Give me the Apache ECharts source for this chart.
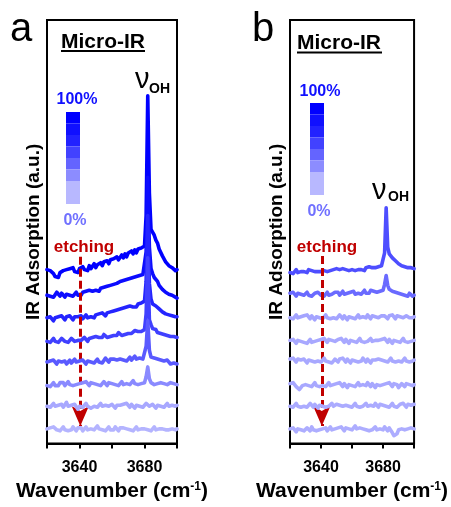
<!DOCTYPE html>
<html><head><meta charset="utf-8">
<script src="https://cdn.jsdelivr.net/npm/echarts@6/dist/echarts.min.js"></script>
<style>html,body{margin:0;padding:0;background:#fff}#c{width:451px;height:507px}</style>
</head><body><div id="c"></div>
<script>
// Wavenumber sampling (cm-1), one point per cm-1
const wnMin = 3620, wnMax = 3700;
const tickLabels = [3640, 3680];
const wn = [];
for (let x = wnMin; x <= wnMax; x++) wn.push(x);

// Panel a: vertical offsets of the stacked spectra (top -> bottom)
const offsetsA = [176, 151, 127, 104, 83, 60, 38, 14];
const colorsA = ['#0000FF', '#0C0CFF', '#2424FF', '#4040FF', '#5A5AFF', '#8A8AFF', '#A8A8FF', '#B4B4FF'];
const a1 = [1,3,0,2,-3,-6,-5,-7,-2,-4, 0,-2,1,-1,2,0,3,-1,1,-2, 2,0,4,1,3,0,5,2,4,7, 3,6,4,8,5,9,7,10,7,11, 9,12,10,14,11,13,16,13,17,14, 18,16,20,17,21,18,22,20,23,21, 25,56,178,79,42,43,36,31,28,22, 20,15,14,9,9,5,6,3,3,0, 1];
const a2 = [0,2,-1,1,-2,0,3,1,-1,2, 0,-2,1,3,0,2,-1,1,3,0, 2,0,3,1,4,2,5,3,4,2, 5,7,4,7,5,8,6,9,7,10, 8,11,9,12,10,14,12,15,13,16, 14,17,15,18,16,19,17,20,18,21, 21,44,120,49,27,22,18,16,14,10, 9,6,5,3,4,1,2,0,-1,-2, -3];
const a3 = [1,-1,2,0,-2,1,-1,2,0,3, 1,-1,2,0,3,1,-1,2,0,2, 1,3,0,2,4,1,3,2,4,1, 4,2,5,3,6,4,3,6,5,7, 5,8,6,9,7,10,8,11,9,12, 10,13,11,12,14,12,15,13,16,15, 18,38,105,36,20,15,16,13,12,10, 9,7,8,5,6,4,5,3,4,2, 2];
const a4 = [0,2,-1,1,3,0,2,-1,1,3, 1,0,2,-1,1,3,2,0,2,1, 3,1,2,4,2,0,3,1,4,2, 5,3,4,6,4,7,5,4,6,5, 7,6,8,6,9,7,6,8,7,9, 8,10,8,9,11,9,10,12,10,11, 12,28,85,22,17,13,11,12,9,10, 8,9,7,8,6,7,5,6,5,4, 4];
const a5 = [0,-2,1,-1,2,0,-2,1,3,0, -1,1,-2,0,2,-1,1,3,0,-1, 1,-1,2,0,-2,1,3,0,2,-1, 1,3,0,2,-1,1,4,2,0,3, 1,3,4,2,0,3,5,2,4,1, 3,5,2,4,6,3,5,4,6,3, 5,16,42,12,5,3,4,2,3,1, 2,0,1,-1,2,0,-2,0,-1,-3, -2];
const a6 = [-1,1,-2,0,2,-1,1,-1,2,0, 2,-1,1,3,0,2,-1,1,0,2, 1,-1,2,0,3,1,-1,2,0,1, 3,0,2,-1,1,3,1,-1,2,4, 1,3,0,2,-1,1,3,0,2,1, 3,0,2,4,1,3,0,2,1,3, 2,8,18,6,2,3,0,2,1,-1, 2,0,1,3,0,-1,2,0,1,1, 0];
const a7 = [0,2,-1,1,3,0,-2,1,3,2, -1,1,4,0,-2,1,-1,2,0,-3, 0,2,-1,1,3,0,2,-2,-3,0, 2,-1,1,3,0,-2,1,3,0,-1, 2,0,-2,1,3,1,-1,2,0,3, 1,-1,2,0,-2,1,3,0,2,-1, 1,3,2,0,-1,2,0,-2,1,3, 0,2,-1,1,3,0,2,1,3,0, 1];
const a8 = [1,-1,2,0,3,1,0,2,-1,1, 3,0,2,-1,1,0,3,1,-1,2, 0,2,-1,1,3,0,-2,1,2,0, 2,4,1,3,0,2,-1,1,3,0, 2,0,3,1,-1,2,0,2,4,1, 3,0,2,-1,1,3,0,2,1,-1, 1,3,0,2,-1,1,3,0,2,1, -1,1,3,0,2,0,-2,1,3,0, 1];
const spectraA = [a1, a2, a3, a4, a5, a6, a7, a8];

// Panel b
const offsetsB = [176, 152, 128, 104, 84, 59, 38, 14];
const colorsB = ['#4E4EFF', '#6A6AFF', '#A4A4FF', '#A8A8FF', '#A8A8FF', '#A8A8FF', '#ABABFF', '#ADADFF'];
const b1 = [-2,0,-3,-1,1,-2,0,-1,1,-1, 0,-2,1,-1,0,2,-1,1,-1,0, -1,1,0,2,-1,1,0,-2,1,0, 2,0,1,-1,2,0,1,3,0,2, 1,3,0,2,1,3,1,2,0,3, 2,4,2,3,5,3,5,4,6,5, 7,18,64,24,17,15,13,11,10,8, 7,6,5,4,4,3,3,2,3,1, 2];
const b2 = [1,-1,2,0,-2,1,-1,0,2,-1, 0,2,-1,1,-2,0,1,-1,2,0, -1,1,-2,0,2,-1,1,0,-1,2, 0,2,-1,1,3,0,2,1,-1,2, 1,3,0,2,1,3,0,2,4,1, 3,1,4,2,3,5,2,4,3,5, 4,10,19,9,5,6,3,4,2,3, 1,2,0,1,-1,0,-2,1,-1,-2, -1];
const b3 = [0,2,-1,1,3,0,-2,1,-1,2, 0,3,1,-1,2,0,-2,1,3,0, 2,-1,1,3,0,2,-1,1,0,2, -1,1,3,1,-1,2,0,-2,1,3, 0,2,-1,1,3,0,-2,1,2,0, 3,1,-1,2,0,1,3,0,-1,2, 0,2,1,-1,2,0,3,1,-1,2, 0,1,3,0,-1,2,1,0,2,0, 1];
const b4 = [1,-1,2,0,-2,1,3,0,2,-1, 1,-2,0,2,-1,-3,0,2,1,-1, 2,0,3,1,-1,2,0,1,3,0, -1,2,0,3,1,-1,2,0,-2,1, 3,0,2,-1,1,3,0,2,-1,1, 0,2,3,0,-2,1,3,1,-1,2, 0,3,1,-1,2,0,-2,1,3,0, 2,-1,1,3,0,2,-1,1,0,2, 1];
const b5 = [2,0,3,1,-1,2,4,1,-1,2, 0,-2,1,3,0,2,-1,1,0,2, -1,1,3,0,2,-1,1,-2,0,2, 1,-1,2,0,3,1,-1,2,0,-2, 1,3,0,2,-1,1,0,3,1,-1, 2,0,-2,1,3,1,-1,2,0,1, 3,0,2,-1,1,3,0,2,-1,1, 0,2,-1,1,3,0,2,-1,1,0, 1];
const b6 = [2,0,3,1,-1,-3,-4,-2,0,2, 1,3,0,2,-1,1,3,0,2,-1, 1,0,2,-1,1,3,0,2,1,-1, 2,0,3,1,-1,2,0,-2,1,3, 0,2,-1,1,3,0,-2,1,2,0, 3,1,-1,2,0,-2,1,3,0,2, 1,-1,2,0,3,1,-1,2,0,1, -2,0,2,1,-1,2,0,1,3,0, 1];
const b7 = [0,2,-1,1,3,0,2,-1,1,0, 2,-1,1,3,1,-1,2,0,-2,1, 3,0,2,-1,1,0,2,3,0,-1, 2,0,1,3,0,-2,1,2,0,2, -1,1,3,0,2,-1,1,0,2,3, 0,-2,1,2,0,3,1,-1,2,0, 1,3,0,2,-1,1,3,0,2,-1, 1,2,0,3,1,-1,2,4,1,0, 2];
const b8 = [1,-1,2,0,-2,1,3,0,2,-1, 0,2,1,-1,3,0,2,-1,1,0, -1,1,0,2,-1,1,3,0,2,1, -1,2,0,3,1,-1,2,0,1,3, 0,2,4,1,-1,2,0,1,3,0, 2,-1,1,0,2,3,0,-2,1,2, 0,3,1,-1,2,0,-3,-6,-8,-4, 0,2,1,3,0,2,1,-1,2,0, 1];
const spectraB = [b1, b2, b3, b4, b5, b6, b7, b8];

// Etching arrow (wavenumber, top value, end value)
const arrowA = [3640.5, 190, 18];
const arrowB = [3640.5, 191, 18];

// Colour-bar shades (100% -> 0%)
const barShades = ['#0000FF', '#1010FF', '#2222FF', '#4242FF', '#6464FF', '#8C8CFF', '#B8B8FF'];

const FONT = '"Liberation Sans", Arial, sans-serif';

function makeSeries(spectra, offsets, colors, gridIdx, arrow) {
  return spectra.map((sp, i) => {
    const s = {
      type: 'line',
      xAxisIndex: gridIdx, yAxisIndex: gridIdx,
      data: wn.map((x, j) => [x, offsets[i] + sp[j]]),
      showSymbol: false, symbol: 'none',
      lineStyle: { color: colors[i], width: 3.6, join: 'round', cap: 'round' },
      itemStyle: { color: colors[i] },
      z: 2 + i,
      animation: false, silent: true
    };
    if (i === spectra.length - 1) {
      s.markLine = {
        silent: true, animation: false,
        symbol: ['none', 'arrow'], symbolSize: [13, 20],
        label: { show: false },
        lineStyle: { color: '#C00000', width: 3, type: [8, 4] },
        data: [[{ coord: [arrow[0], arrow[1]] }, { coord: [arrow[0], arrow[2]] }]]
      };
    }
    return s;
  });
}

function xAx(gridIdx) {
  return {
    gridIndex: gridIdx, type: 'value', min: wnMin, max: wnMax, interval: 20,
    axisLine: { show: true, lineStyle: { color: '#000', width: 2 } },
    axisTick: { show: true, length: 5, lineStyle: { color: '#000', width: 2 } },
    axisLabel: {
      margin: 16, color: '#000', fontWeight: 'bold', fontSize: 16, fontFamily: FONT,
      formatter: v => tickLabels.indexOf(v) >= 0 ? String(v) : ''
    },
    splitLine: { show: false },
    name: '{t|Wavenumber (cm}{s|-1}{t|)}', nameLocation: 'middle', nameGap: 34,
    nameTextStyle: {
      rich: {
        t: { fontSize: 21, fontWeight: 'bold', fontFamily: FONT, color: '#000' },
        s: { fontSize: 12, fontWeight: 'bold', fontFamily: FONT, color: '#000', padding: [0, 0, 10, 0] }
      }
    }
  };
}
function yAx(gridIdx) {
  return {
    gridIndex: gridIdx, type: 'value', min: 0, max: 431,
    axisLine: { show: true, lineStyle: { color: '#000', width: 2 } },
    axisTick: { show: false }, axisLabel: { show: false }, splitLine: { show: false },
    name: 'IR Adsorption (a.u.)', nameLocation: 'middle', nameGap: 4,
    nameTextStyle: { fontSize: 19, fontWeight: 'bold', fontFamily: FONT, color: '#000' }
  };
}

function txt(x, y, text, font, fill, align) {
  return { type: 'text', x: x, y: y, silent: true, z: 100,
    style: { text: text, font: font, fill: fill, align: align || 'center', verticalAlign: 'middle',
             textAlign: align || 'center', textVerticalAlign: 'middle' } };
}
function colorBar(x, y0, w, h) {
  const els = [];
  let y = y0;
  barShades.forEach((c, i) => {
    const hh = i === barShades.length - 1 ? h * 2 : h;
    els.push({ type: 'rect', silent: true, z: 100, shape: { x: x, y: y, width: w, height: hh }, style: { fill: c } });
    y += hh;
  });
  return els;
}

const graphics = [
  txt(21, 30, 'a', '40px ' + FONT, '#000'),
  txt(263, 30, 'b', '40px ' + FONT, '#000'),
  txt(61, 42, 'Micro-IR', 'bold 21px ' + FONT, '#000', 'left'),
  { type: 'line', silent: true, z: 100, shape: { x1: 61, y1: 51, x2: 145, y2: 51 }, style: { stroke: '#000', lineWidth: 2 } },
  txt(297, 43.5, 'Micro-IR', 'bold 21px ' + FONT, '#000', 'left'),
  { type: 'line', silent: true, z: 100, shape: { x1: 297, y1: 52.5, x2: 382, y2: 52.5 }, style: { stroke: '#000', lineWidth: 2 } },
  txt(77, 100, '100%', 'bold 16px ' + FONT, '#1010FF'),
  txt(75, 221, '0%', 'bold 16px ' + FONT, '#7070FF'),
  txt(320, 92, '100%', 'bold 16px ' + FONT, '#1010FF'),
  txt(319, 212, '0%', 'bold 16px ' + FONT, '#7070FF'),
  txt(135, 80, 'ν', '29px ' + FONT, '#000', 'left'),
  txt(149, 89.5, 'OH', 'bold 14px ' + FONT, '#000', 'left'),
  txt(372, 191, 'ν', '29px ' + FONT, '#000', 'left'),
  txt(388, 197, 'OH', 'bold 14px ' + FONT, '#000', 'left'),
  txt(84, 247.5, 'etching', 'bold 17px ' + FONT, '#C00000'),
  txt(327, 247.5, 'etching', 'bold 17px ' + FONT, '#C00000')
].concat(colorBar(66, 112, 14, 11.5)).concat(colorBar(310, 103, 14, 11.5));

const chart = echarts.init(document.getElementById('c'), null, { renderer: 'canvas' });
chart.setOption({
  animation: false,
  backgroundColor: '#fff',
  grid: [
    { left: 47, top: 20, width: 130, height: 431, show: true, borderColor: '#000', borderWidth: 2, backgroundColor: 'transparent' },
    { left: 290, top: 20, width: 129, height: 431, show: true, borderColor: '#000', borderWidth: 2, backgroundColor: 'transparent' }
  ],
  xAxis: [xAx(0), xAx(1)],
  yAxis: [yAx(0), yAx(1)],
  series: makeSeries(spectraA, offsetsA, colorsA, 0, arrowA).concat(makeSeries(spectraB, offsetsB, colorsB, 1, arrowB)),
  graphic: graphics
});
</script>
</body></html>
